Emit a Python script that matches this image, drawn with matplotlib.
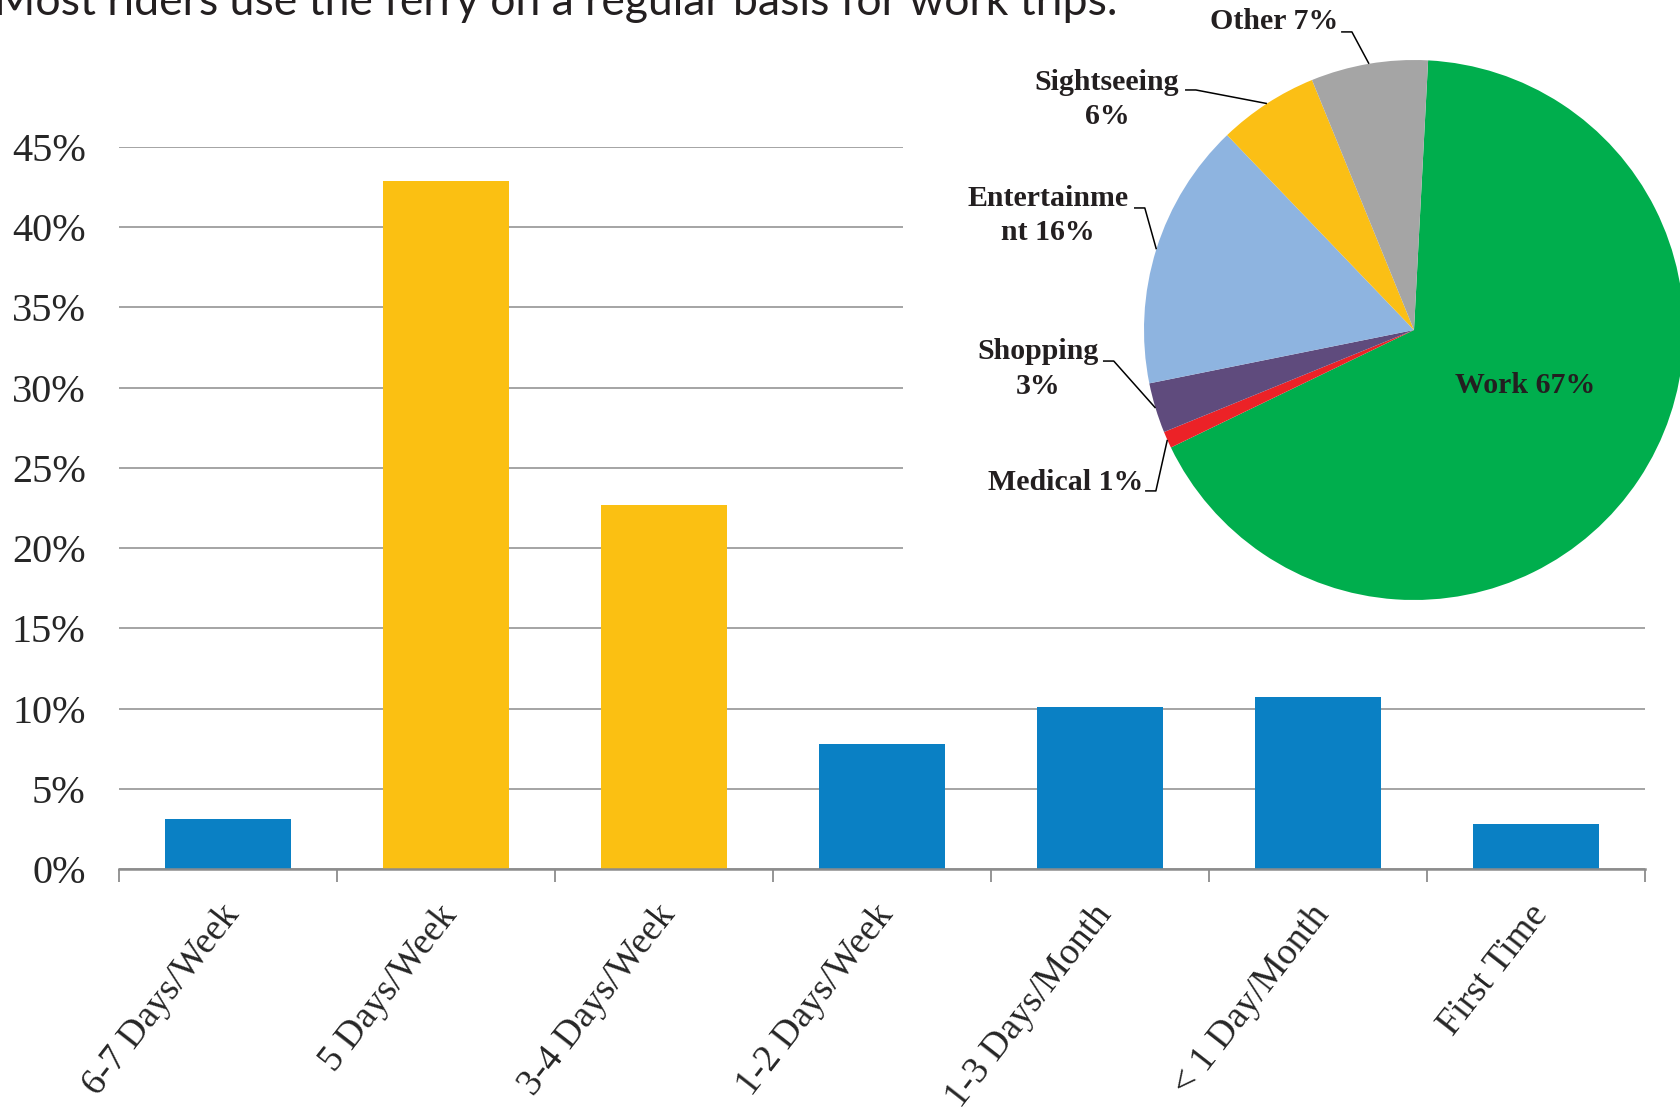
import numpy as np
import matplotlib.pyplot as plt
import matplotlib.transforms as mtransforms

# how often riders take the ferry (share of respondents)
freq_labels = ['6-7 Days/Week', '5 Days/Week', '3-4 Days/Week', '1-2 Days/Week',
               '1-3 Days/Month', '< 1 Day/Month', 'First Time']
freq_share = [0.031, 0.429, 0.227, 0.078, 0.101, 0.107, 0.028]
freq_highlight = [False, True, True, False, False, False, False]
y_ticks = [0, 5, 10, 15, 20, 25, 30, 35, 40, 45]

# trip purpose (percent)
purpose_labels = ['Work 67%', 'Medical 1%', 'Shopping\n3%', 'Entertainme\nnt 16%',
                  'Sightseeing\n6%', 'Other 7%']
purpose_share = [67, 1, 3, 16, 6, 7]
purpose_colors = ['#00AE4D', '#EC2227', '#5F4B7D', '#8EB4E0', '#FBBF15', '#A5A5A5']

title = 'Most riders use the ferry on a regular basis for work trips.'

SERIF = 'Liberation Serif'
GRID = '#8C8C8C'
W, H = 1680, 1118

fig = plt.figure(figsize=(W / 100, H / 100), dpi=100)
fig.patch.set_facecolor('white')

# --- bar chart ---
ax = fig.add_axes([119 / W, 1 - 869 / H, (1645 - 119) / W, (869 - 147) / H])
x = np.arange(len(freq_labels))
bar_colors = ['#FBC012' if h else '#0A80C4' for h in freq_highlight]
ax.bar(x, freq_share, width=0.575, color=bar_colors, zorder=2)
ax.set_xlim(-0.5, len(x) - 0.5)
ax.set_ylim(0, 0.45)
ax.set_yticks([t / 100 for t in y_ticks])
ax.set_yticklabels([f'{t}%' for t in y_ticks], fontfamily=SERIF, fontsize=29,
                   color='#262626')
ax.yaxis.grid(True, color=GRID, lw=1.1, zorder=0)
ax.set_axisbelow(True)
for s in ['left', 'right', 'top']:
    ax.spines[s].set_visible(False)
ax.spines['bottom'].set_color(GRID)
ax.spines['bottom'].set_linewidth(1.8)
ax.tick_params(axis='y', length=0, pad=24)

ax.set_xticks(x)
ax.set_xticklabels(freq_labels, rotation=52, ha='right', va='center',
                   rotation_mode='anchor', fontfamily=SERIF, fontsize=27,
                   color='#262626')
ax.tick_params(axis='x', which='major', length=0, pad=29)
ax.set_xticks(np.arange(-0.5, len(x)), minor=True)
ax.tick_params(axis='x', which='minor', length=9.4, width=1.3, color=GRID)
# nudge the slanted labels a few pixels to the right
nudge = mtransforms.ScaledTranslation(5 / 100, 0, fig.dpi_scale_trans)
for lbl in ax.get_xticklabels():
    lbl.set_transform(lbl.get_transform() + nudge)

# --- pie chart on a white panel over the upper right ---
px0, py1 = 903, 611
cx, cy, r = 1414, 330, 270
pax = fig.add_axes([px0 / W, 1 - py1 / H, (W - px0) / W, py1 / H])
wedges, _ = pax.pie(purpose_share, colors=purpose_colors, startangle=87,
                    counterclock=False, radius=1, frame=True,
                    wedgeprops=dict(linewidth=0))
pax.set_aspect('auto')
pax.set_xlim(-(cx - px0) / r, (W - cx) / r)
pax.set_ylim(-(py1 - cy) / r, cy / r)
pax.set_facecolor('white')
pax.set_xticks([])
pax.set_yticks([])
for s in pax.spines.values():
    s.set_visible(False)

lab_font = dict(fontfamily=SERIF, fontweight='bold', fontsize=21.5,
                color='#231F20', ha='center', va='center', linespacing=1.35)

# label centre, leader start
label_layout = [
    ((0.411, -0.207), None),
    ((-1.289, -0.563), (-0.996, -0.596)),
    ((-1.393, -0.144), (-1.152, -0.115)),
    ((-1.356, 0.424), (-1.037, 0.452)),
    ((-1.137, 0.854), (-0.848, 0.889)),
    ((-0.519, 1.141), (-0.270, 1.104)),
]
for w, text, (tpos, lstart) in zip(wedges, purpose_labels, label_layout):
    pax.text(tpos[0], tpos[1], text, **lab_font)
    if lstart is None:
        continue
    mid = np.deg2rad((w.theta1 + w.theta2) / 2)
    tip = (np.cos(mid), np.sin(mid))
    elbow = lstart[0] + 0.04
    pax.plot([lstart[0], elbow, tip[0]], [lstart[1], lstart[1], tip[1]],
             color='black', lw=1.1, solid_capstyle='butt')

fig.text(-6 / W, 1 - 15 / H, title, fontfamily='Lato', fontsize=32,
         color='#231F20', ha='left', va='baseline')

fig.savefig('out.png', dpi=100, facecolor='white')
